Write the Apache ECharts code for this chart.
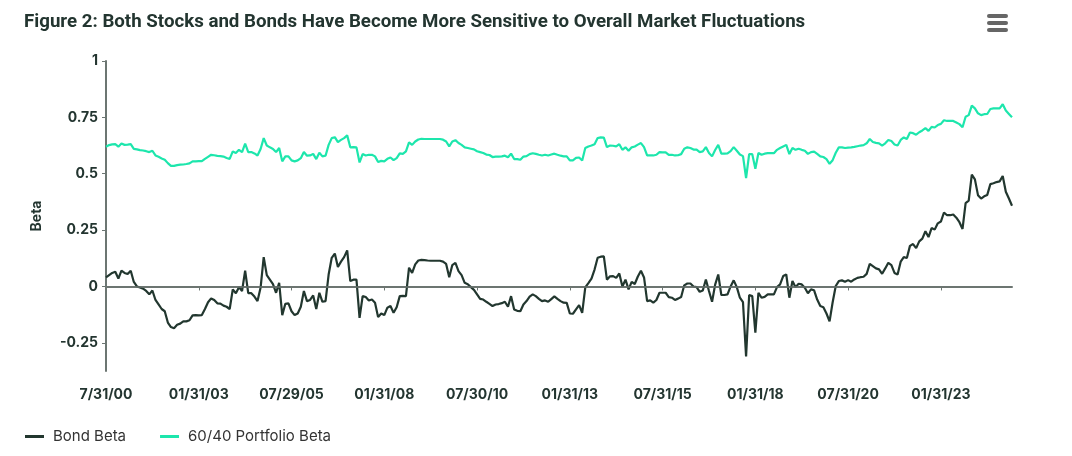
<!DOCTYPE html>
<html>
<head>
<meta charset="utf-8">
<title>Figure 2</title>
<script src="https://cdn.jsdelivr.net/npm/echarts@6/dist/echarts.min.js"></script>
<style>
  html, body { margin: 0; padding: 0; background: #fff; }
  #chart { width: 1072px; height: 456px; }
</style>
</head>
<body>
<div id="chart"></div>
<script>
// monthly points, Jul 2000 .. Dec 2024
const tickLabels = ['7/31/00', '01/31/03', '07/29/05', '01/31/08', '07/30/10',
  '01/31/13', '07/31/15', '01/31/18', '07/31/20', '01/31/23'];

const bondBeta = [
  0.04, 0.05, 0.06, 0.065, 0.035, 0.07, 0.06, 0.055, 0.07, 0.02,
  0.0, -0.005, -0.01, -0.02, -0.035, -0.018, -0.06, -0.08, -0.1, -0.11,
  -0.16, -0.18, -0.185, -0.17, -0.165, -0.155, -0.155, -0.15, -0.128, -0.127,
  -0.128, -0.127, -0.1, -0.07, -0.053, -0.06, -0.075, -0.076, -0.085, -0.09,
  -0.1, -0.013, -0.03, -0.003, -0.02, 0.07, -0.03, -0.03, -0.045, -0.065,
  -0.005, 0.13, 0.05, 0.03, 0.01, -0.028, 0.016, -0.127, -0.077, -0.075,
  -0.11, -0.127, -0.12, -0.09, -0.02, -0.065, -0.06, -0.04, -0.1, -0.028,
  -0.068, -0.065, 0.053, 0.127, 0.146, 0.086, 0.11, 0.13, 0.16, 0.024,
  0.03, 0.03, -0.139, -0.043, -0.047, -0.062, -0.058, -0.072, -0.136, -0.12,
  -0.127, -0.094, -0.087, -0.117, -0.092, -0.043, -0.042, -0.043, 0.083, 0.06,
  0.098, 0.115, 0.118, 0.117, 0.115, 0.114, 0.114, 0.114, 0.114, 0.11,
  0.1, 0.041, 0.095, 0.105, 0.068, 0.05, 0.016, 0.01, -0.003, -0.015,
  -0.035, -0.055, -0.058, -0.068, -0.077, -0.087, -0.08, -0.078, -0.074, -0.068,
  -0.09, -0.043, -0.102, -0.108, -0.11, -0.08, -0.065, -0.045, -0.035, -0.043,
  -0.055, -0.065, -0.062, -0.068, -0.056, -0.044, -0.055, -0.065, -0.072, -0.073,
  -0.12, -0.121, -0.102, -0.083, -0.117, -0.004, 0.015, 0.035, 0.075, 0.127,
  0.132, 0.133, 0.03, 0.045, 0.046, 0.038, 0.058, 0.0, 0.03, -0.013,
  0.02, 0.011, 0.044, 0.07, 0.04, -0.065, -0.062, -0.072, -0.06, -0.028,
  -0.028, -0.028, -0.047, -0.05, -0.06, -0.054, -0.047, 0.005, 0.013, 0.013,
  0.0, -0.003, -0.024, -0.018, 0.031, -0.02, -0.068, 0.008, 0.053, -0.038,
  -0.038, -0.035, 0.0, 0.027, -0.003, -0.05, -0.07, -0.31, -0.038, -0.043,
  -0.205, -0.028, -0.05, -0.046, -0.035, -0.035, -0.035, -0.003, 0.009, 0.046,
  0.053, -0.05, 0.024, -0.003, 0.012, 0.009, -0.006, -0.03, -0.013, -0.017,
  -0.058, -0.087, -0.092, -0.12, -0.155, -0.07, 0.002, 0.024, 0.027, 0.021,
  0.028, 0.021, 0.031, 0.038, 0.041, 0.043, 0.056, 0.1, 0.09, 0.08,
  0.076, 0.056, 0.08, 0.105, 0.095, 0.06, 0.053, 0.11, 0.13, 0.126,
  0.18, 0.188, 0.17, 0.2, 0.212, 0.245, 0.219, 0.259, 0.252, 0.28,
  0.288, 0.328, 0.316, 0.316, 0.319, 0.305, 0.285, 0.255, 0.37, 0.381,
  0.496, 0.475, 0.405, 0.39, 0.4, 0.406, 0.454, 0.458, 0.463, 0.466,
  0.49, 0.42, 0.39, 0.358
];

const portfolioBeta = [
  0.62, 0.627, 0.63, 0.631, 0.62, 0.634, 0.628, 0.629, 0.631, 0.61,
  0.608, 0.605, 0.603, 0.6, 0.596, 0.602, 0.581, 0.575, 0.568, 0.562,
  0.547, 0.535, 0.535, 0.538, 0.54, 0.541, 0.543, 0.546, 0.555, 0.555,
  0.556, 0.556, 0.566, 0.575, 0.584, 0.582, 0.579, 0.578, 0.576, 0.57,
  0.566, 0.599, 0.592, 0.606, 0.596, 0.633, 0.596, 0.596, 0.59, 0.581,
  0.61, 0.658, 0.625, 0.617, 0.61, 0.596, 0.614, 0.555, 0.577, 0.577,
  0.559, 0.555, 0.559, 0.569, 0.596, 0.58, 0.581, 0.588, 0.565, 0.593,
  0.577, 0.58, 0.628, 0.658, 0.662, 0.64, 0.65, 0.658, 0.67, 0.617,
  0.618, 0.617, 0.55, 0.587, 0.581, 0.584, 0.584, 0.577, 0.552, 0.557,
  0.555, 0.566, 0.572, 0.56, 0.569, 0.59, 0.588, 0.599, 0.639, 0.628,
  0.643, 0.652, 0.655, 0.654, 0.654, 0.654, 0.654, 0.654, 0.654, 0.651,
  0.643, 0.621, 0.643, 0.649, 0.636, 0.628, 0.617, 0.614, 0.611, 0.608,
  0.6, 0.596, 0.592, 0.585, 0.583, 0.574, 0.576, 0.576, 0.577, 0.58,
  0.573, 0.589, 0.565, 0.565, 0.562, 0.576, 0.578, 0.587, 0.591, 0.588,
  0.584, 0.581, 0.584, 0.581, 0.585, 0.589, 0.584, 0.58, 0.577, 0.577,
  0.559, 0.559, 0.57, 0.572, 0.559, 0.614, 0.621, 0.625, 0.631, 0.658,
  0.661, 0.66, 0.618, 0.625, 0.624, 0.621, 0.631, 0.606, 0.617, 0.602,
  0.617, 0.621, 0.629, 0.636, 0.618, 0.581, 0.581, 0.581, 0.584, 0.596,
  0.595, 0.595, 0.584, 0.584, 0.581, 0.582, 0.587, 0.611, 0.617, 0.614,
  0.607, 0.607, 0.596, 0.599, 0.618, 0.592, 0.577, 0.605, 0.628, 0.589,
  0.589, 0.59, 0.6, 0.618, 0.602, 0.585, 0.578, 0.481, 0.587, 0.587,
  0.522, 0.592, 0.584, 0.589, 0.591, 0.591, 0.591, 0.606, 0.614, 0.621,
  0.628, 0.587, 0.614, 0.606, 0.611, 0.606, 0.602, 0.588, 0.596, 0.598,
  0.588, 0.577, 0.574, 0.565, 0.544, 0.56, 0.593, 0.617, 0.617, 0.614,
  0.616, 0.617, 0.619, 0.622, 0.625, 0.627, 0.635, 0.654, 0.641, 0.637,
  0.635, 0.625, 0.635, 0.65, 0.645, 0.63, 0.625, 0.65, 0.661, 0.654,
  0.683, 0.68, 0.673, 0.684, 0.692, 0.702, 0.69, 0.708, 0.705, 0.716,
  0.721, 0.737, 0.734, 0.734, 0.734, 0.727, 0.72, 0.706, 0.753, 0.76,
  0.802, 0.79, 0.768, 0.76, 0.764, 0.765, 0.787, 0.79, 0.79, 0.79,
  0.808, 0.78, 0.765, 0.75
];

const yTicks = [-0.25, 0, 0.25, 0.5, 0.75, 1];

// month categories, one per point
const months = [];
for (let k = 0; k < bondBeta.length; k++) {
  const m = (6 + k) % 12 + 1;
  const y = 2000 + Math.floor((6 + k) / 12);
  months.push(m + '/' + y);
}

const textColor = '#233530';
const axisColor = '#6c7672';
const fontFamily = 'Inter, "Noto Sans", sans-serif';

const myChart = echarts.init(document.getElementById('chart'));
const option = {
  animation: false,
  backgroundColor: '#fff',
  title: {
    text: 'Figure 2: Both Stocks and Bonds Have Become More Sensitive to Overall Market Fluctuations',
    left: 19,
    top: 8,
    textStyle: {
      color: textColor,
      fontFamily: 'Roboto, sans-serif',
      fontSize: 18.7,
      fontWeight: 'bold'
    }
  },
  graphic: [
    { type: 'rect', left: 987, top: 14, shape: { width: 21, height: 4, r: 2 }, style: { fill: '#666' } },
    { type: 'rect', left: 987, top: 21, shape: { width: 21, height: 4, r: 2 }, style: { fill: '#666' } },
    { type: 'rect', left: 987, top: 28, shape: { width: 21, height: 4, r: 2 }, style: { fill: '#666' } }
  ],
  legend: {
    left: 20,
    top: 424,
    icon: 'rect',
    itemWidth: 19,
    itemHeight: 3,
    itemGap: 34,
    textStyle: { color: '#333', fontFamily: fontFamily, fontSize: 15, padding: [0, 0, 0, 4] },
    data: ['Bond Beta', '60/40 Portfolio Beta']
  },
  grid: { left: 106, right: 60, top: 61, bottom: 85 },
  xAxis: {
    type: 'category',
    data: months,
    boundaryGap: false,
    axisLine: { lineStyle: { color: axisColor, width: 2 } },
    axisTick: { interval: 29, length: 4, lineStyle: { color: axisColor } },
    axisLabel: {
      interval: 29,
      margin: 17,
      color: textColor,
      fontFamily: fontFamily,
      fontSize: 14,
      fontWeight: 'bold',
      formatter: (v, i) => tickLabels[i / 30]
    },
    splitLine: { show: false }
  },
  yAxis: {
    type: 'value',
    min: -0.375,
    max: 1,
    name: 'Beta',
    nameLocation: 'middle',
    nameGap: 62,
    nameTextStyle: { color: textColor, fontFamily: fontFamily, fontSize: 14, fontWeight: 'bold' },
    axisLine: { show: true, lineStyle: { color: axisColor, width: 2 } },
    axisTick: { show: true, length: 4, customValues: yTicks, lineStyle: { color: axisColor } },
    axisLabel: {
      customValues: yTicks,
      margin: 8,
      color: textColor,
      fontFamily: fontFamily,
      fontSize: 14,
      fontWeight: 'bold'
    },
    splitLine: { show: false }
  },
  series: [
    {
      name: 'Bond Beta',
      type: 'line',
      data: bondBeta,
      showSymbol: false,
      color: '#22372f',
      lineStyle: { width: 2.2 },
      z: 3,
      markLine: {
        silent: true,
        symbol: 'none',
        label: { show: false },
        lineStyle: { color: axisColor, width: 1.5, type: 'solid' },
        data: [{ yAxis: 0 }]
      }
    },
    {
      name: '60/40 Portfolio Beta',
      type: 'line',
      data: portfolioBeta,
      showSymbol: false,
      color: '#1de6ac',
      lineStyle: { width: 2.2 },
      z: 3
    }
  ]
};
myChart.setOption(option);
</script>
</body>
</html>
